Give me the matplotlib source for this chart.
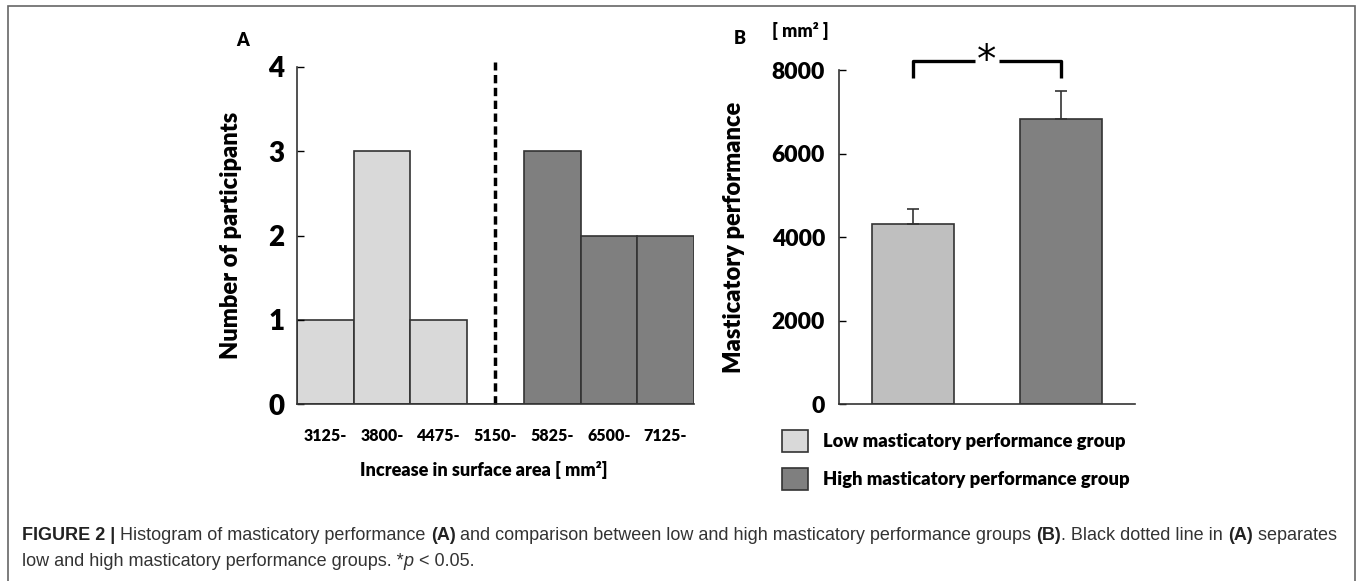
import matplotlib
matplotlib.use("Agg")
import matplotlib.pyplot as plt
from matplotlib.patches import Patch, Rectangle

plt.rcParams['font.family'] = ['Lato', 'DejaVu Sans']

# panel A: histogram
bin_labels = ["3125-", "3800-", "4475-", "5150-", "5825-", "6500-", "7125-"]
counts = [1, 3, 1, 0, 3, 2, 2]
group = ["low", "low", "low", None, "high", "high", "high"]
split_bin = 3

# panel B: group means
groups = ["Low masticatory performance group", "High masticatory performance group"]
means = [4320, 6830]
errs = [340, 660]

hist_col = {"low": "#d9d9d9", "high": "#7f7f7f", None: "white"}
bar_col = ["#bfbfbf", "#808080"]
leg_col = ["#d9d9d9", "#7f7f7f"]
edge = "#333333"
W = "heavy"

fig = plt.figure(figsize=(13.58, 5.81), dpi=100)

# ---- A ----
axA = fig.add_axes([0.2187, 0.3046, 0.2923, 0.5801])
axA.bar(range(len(counts)), counts, width=1.0,
        color=[hist_col[g] for g in group], edgecolor=edge, linewidth=1.2)
axA.set_xlim(-0.5, len(counts) - 0.5)
axA.set_ylim(0, 4)
axA.axvline(split_bin, ymin=0, ymax=1.015, color="black", lw=2.5,
            ls=(0, (2.4, 1.3)), clip_on=False)
axA.set_xticks(range(len(counts)))
axA.set_xticklabels(bin_labels, fontsize=11.5, fontweight=W)
axA.set_yticks([0, 1, 2, 3, 4])
axA.set_yticklabels(["0", "1", "2", "3", "4"], fontsize=20, fontweight=W)
axA.tick_params(axis="x", length=0, pad=17)
axA.tick_params(axis="y", direction="in", length=5, pad=9, width=1)
for s in ["top", "right"]:
    axA.spines[s].set_visible(False)
for s in ["left", "bottom"]:
    axA.spines[s].set_color(edge)
    axA.spines[s].set_linewidth(1.2)
axA.set_ylabel("Number of participants", fontsize=17, fontweight=W)
axA.yaxis.set_label_coords(-0.139, 0.5)
axA.set_xlabel("Increase in surface area [ mm²]", fontsize=13, fontweight=W)
axA.xaxis.set_label_coords(0.47, -0.196)
axA.xaxis.label.set_verticalalignment("center")

# ---- B ----
axB = fig.add_axes([0.6178, 0.3046, 0.2180, 0.5749])
x = [0, 1]
axB.bar(x, means, width=0.56, color=bar_col, edgecolor=edge, linewidth=1.2)
axB.errorbar(x, means, yerr=[[0, 0], errs], fmt="none", ecolor=edge,
             elinewidth=1.2, capsize=4, capthick=1.2)
axB.set_xlim(-0.5, 1.5)
axB.set_ylim(0, 8000)
axB.set_xticks([])
axB.set_yticks([0, 2000, 4000, 6000, 8000])
axB.set_yticklabels(["0", "2000", "4000", "6000", "8000"], fontsize=16.5, fontweight=W)
axB.tick_params(axis="y", direction="in", length=5, pad=10, width=1)
for s in ["top", "right"]:
    axB.spines[s].set_visible(False)
for s in ["left", "bottom"]:
    axB.spines[s].set_color(edge)
    axB.spines[s].set_linewidth(1.2)
axB.set_ylabel("Masticatory performance", fontsize=17, fontweight=W)
axB.yaxis.set_label_coords(-0.318, 0.5)

# significance bracket
y_top, y_leg = 8220, 7810
axB.plot([0, 0, 0.42], [y_leg, y_top, y_top], color="black", lw=2.4,
         clip_on=False, solid_capstyle="butt")
axB.plot([0.58, 1, 1], [y_top, y_top, y_leg], color="black", lw=2.4,
         clip_on=False, solid_capstyle="butt")
axB.text(0.5, y_top, "*", ha="center", va="center", fontsize=28,
         family="DejaVu Sans", clip_on=False)

handles = [Patch(facecolor=c, edgecolor=edge, linewidth=1.2) for c in leg_col]
fig.legend(handles, groups, loc="upper left", bbox_to_anchor=(0.5755, 0.26),
           frameon=False, prop={"weight": W, "size": 13.2},
           handlelength=1.45, handleheight=1.45, handletextpad=0.8,
           labelspacing=0.88, borderaxespad=0, borderpad=0)

# panel letters
fig.text(243 / 1358, 1 - 40 / 581, "A", fontsize=13, fontweight=W,
         ha="center", va="center")
fig.text(740 / 1358, 1 - 38 / 581, "B", fontsize=13, fontweight=W,
         ha="center", va="center")
fig.text(800 / 1358, 1 - 31 / 581, "[ mm² ]", fontsize=13, fontweight=W,
         ha="center", va="center")

# outer frame
fig.patches.append(Rectangle((8 / 1358, -0.05), 1347 / 1358, 1.05 - 6 / 581,
                             transform=fig.transFigure, fill=False,
                             edgecolor="#666666", lw=1.2))

# caption with mixed styles
cap_font = ["Liberation Sans", "DejaVu Sans"]
line1 = [("FIGURE 2 |", "bold", "normal"),
         (" Histogram of masticatory performance ", "normal", "normal"),
         ("(A)", "bold", "normal"),
         (" and comparison between low and high masticatory performance groups ", "normal", "normal"),
         ("(B)", "bold", "normal"),
         (". Black dotted line in ", "normal", "normal"),
         ("(A)", "bold", "normal"),
         (" separates", "normal", "normal")]
line2 = [("low and high masticatory performance groups. *", "normal", "normal"),
         ("p", "normal", "italic"),
         (" < 0.05.", "normal", "normal")]

fig.canvas.draw()
renderer = fig.canvas.get_renderer()
for yy, segs in [(535, line1), (561, line2)]:
    xpx = 22
    for txt, w, st in segs:
        t = fig.text(xpx / 1358, 1 - yy / 581, txt, fontsize=13.0, fontweight=w,
                     fontstyle=st, family=cap_font, va="center", ha="left",
                     color="#222222" if w == "bold" else "#333333")
        bb = t.get_window_extent(renderer)
        xpx += bb.width

fig.savefig("out.png", dpi=100)
